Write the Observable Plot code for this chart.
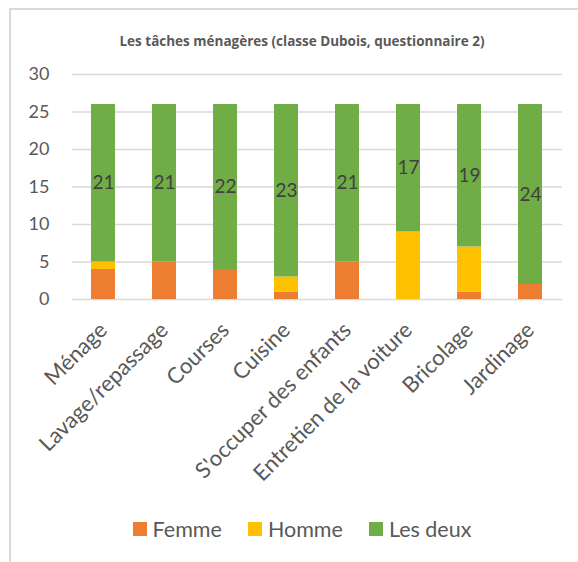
<!DOCTYPE html>
<html>
<head>
<meta charset="utf-8">
<script src="https://cdn.jsdelivr.net/npm/d3@7"></script>
<script src="https://cdn.jsdelivr.net/npm/@observablehq/plot@0.6"></script>
<style>
  html, body { margin: 0; padding: 0; background: #fff; overflow: hidden; }
  #wrap { position: relative; width: 578px; height: 562px; overflow: hidden; font-family: Lato, "Open Sans", sans-serif; }
  #frame { position: absolute; left: 9px; top: 8px; width: 700px; height: 700px; border-left: 2px solid #d9d9d9; border-top: 2px solid #d9d9d9; box-sizing: border-box; }
  #title { position: absolute; left: 0; width: 604px; top: 32px; text-align: center; font-family: "Open Sans", sans-serif; font-weight: bold; font-size: 13.5px; color: #595959; }
  #chart { position: absolute; left: 0; top: 0; }
  #legend { position: absolute; top: 516px; left: 0; width: 604px; display: flex; justify-content: center; gap: 26px; font-size: 21.5px; color: #595959; }
  .item { display: flex; align-items: center; gap: 6px; }
  .sw { width: 14px; height: 14px; display: inline-block; }
</style>
</head>
<body>
<div id="wrap">
  <div id="frame"></div>
  <div id="title">Les tâches ménagères (classe Dubois, questionnaire 2)</div>
  <div id="chart"></div>
  <div id="legend"></div>
</div>
<script>
const categories = ["Ménage", "Lavage/repassage", "Courses", "Cuisine", "S'occuper des enfants", "Entretien de la voiture", "Bricolage", "Jardinage"];
const series = ["Femme", "Homme", "Les deux"];
const femme   = [4, 5, 4, 1, 5, 0, 1, 2];
const homme   = [1, 0, 0, 2, 0, 9, 6, 0];
const lesDeux = [21, 21, 22, 23, 21, 17, 19, 24];
const colors = ["#ED7D31", "#FFC000", "#70AD47"];
const yTicks = [0, 5, 10, 15, 20, 25, 30];

const seriesValues = [femme, homme, lesDeux];
const data = [];
categories.forEach((c, i) => {
  series.forEach((s, j) => data.push({category: c, series: s, value: seriesValues[j][i]}));
});

const chart = Plot.plot({
  width: 578,
  height: 500,
  marginLeft: 72,
  marginRight: 16,
  marginTop: 74,
  marginBottom: 201,
  style: {fontFamily: "Lato, 'Open Sans', sans-serif", color: "#595959", background: "transparent"},
  x: {domain: categories, paddingInner: 0.6, paddingOuter: 0.3, label: null},
  y: {domain: [0, 30], label: null},
  color: {domain: series, range: colors},
  marks: [
    Plot.ruleY(yTicks, {stroke: "#d9d9d9", strokeWidth: 1.5}),
    Plot.axisY({ticks: yTicks, tickSize: 0, tickPadding: 23, fontSize: 18, fill: "#595959", label: null}),
    Plot.axisX({tickSize: 0, tickRotate: -45, tickPadding: 27, dx: 0, fontSize: 22, fill: "#595959", label: null}),
    Plot.barY(data, Plot.stackY({x: "category", y: "value", z: "series", fill: "series", order: series})),
    Plot.text(data, Plot.stackY({x: "category", y: "value", z: "series", order: series,
      text: d => d.series === "Les deux" ? String(d.value) : "",
      fontSize: 19, fill: "#404040"}))
  ]
});
document.getElementById("chart").appendChild(chart);

const legend = document.getElementById("legend");
series.forEach((s, j) => {
  const item = document.createElement("div");
  item.className = "item";
  const sw = document.createElement("span");
  sw.className = "sw";
  sw.style.background = colors[j];
  const t = document.createElement("span");
  t.textContent = s;
  item.appendChild(sw);
  item.appendChild(t);
  legend.appendChild(item);
});
</script>
</body>
</html>
